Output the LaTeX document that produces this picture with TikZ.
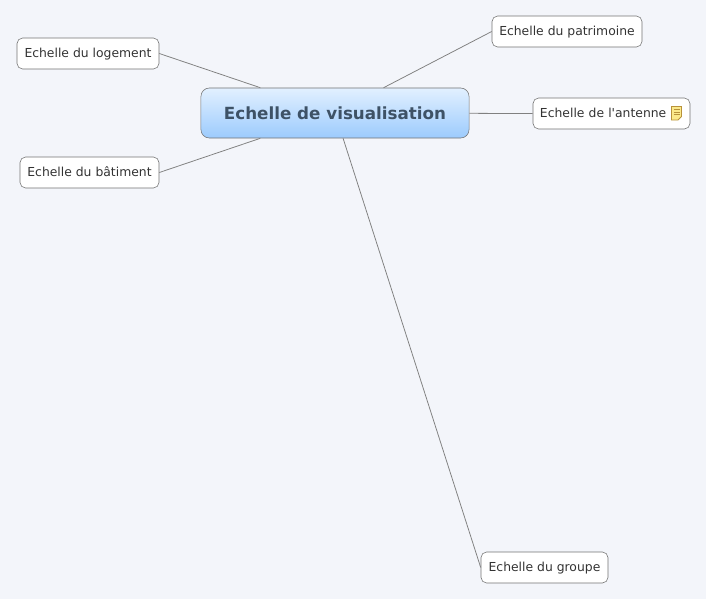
\documentclass[tikz,border=0pt]{standalone}
\usepackage{fontspec}
\setmainfont{DejaVu Sans}
\newfontfamily\topicfont{DejaVu Sans}
\usetikzlibrary{positioning}
\definecolor{pagebg}{HTML}{F3F5FA}
\definecolor{maintop}{HTML}{E2F0FF}
\definecolor{mainbottom}{HTML}{9CCBFD}
\definecolor{mainink}{HTML}{3E5266}
\definecolor{noteyellow}{HTML}{FBE98A}
\definecolor{noteedge}{HTML}{B8923A}

\begin{document}
\begin{tikzpicture}[
  x=0.025cm, y=-0.025cm,
  topic/.style={draw=black!55, fill=white, rounded corners=4pt, minimum height=0.775cm, inner sep=0pt, text height=8pt, text depth=2pt, font=\topicfont\fontsize{8.8}{11}\selectfont, text=black!80, align=center},
  central/.style={draw=black!55, top color=maintop, bottom color=mainbottom, rounded corners=6pt, minimum width=6.7cm, minimum height=1.25cm, inner sep=0pt, font=\fontsize{11.9}{15}\selectfont\bfseries, text=mainink},
  link/.style={draw=black!50, line width=0.55pt}
]
  \fill[pagebg] (0,0) rectangle (706,599);
  \useasboundingbox (0,0) rectangle (706,599);

  \node[central] (main) at (335,113) {Echelle de visualisation};

  \node[topic, minimum width=3.55cm] (logement) at (88,53.5) {Echelle du logement};
  \node[topic, minimum width=3.75cm] (patrimoine) at (567,31.5) {Echelle du patrimoine};
  \node[topic, minimum width=3.925cm, text width=3.575cm, align=left] (antenne) at (611.5,113.5) {Echelle de l'antenne};
  \node[topic, minimum width=3.475cm] (batiment) at (89.5,172.5) {Echelle du bâtiment};
  \node[topic, minimum width=3.175cm] (groupe) at (544.5,567.5) {Echelle du groupe};

  \draw[link] (logement.east) -- (main);
  \draw[link] (patrimoine.west) -- (main);
  \draw[link] (antenne.west) -- (main);
  \draw[link] (batiment.east) -- (main);
  \draw[link] (groupe.west) -- (main);

  % note icon
  \draw[noteedge, fill=noteyellow, line width=0.6pt] (671.5,106.5) -- (681.5,106.5) -- (681.5,116.5) -- (678,120) -- (671.5,120) -- cycle;
  \foreach \y in {109.5,112,114.5}
    \draw[noteedge, line width=0.4pt] (673.5,\y) -- (679.5,\y);
\end{tikzpicture}
\end{document}
